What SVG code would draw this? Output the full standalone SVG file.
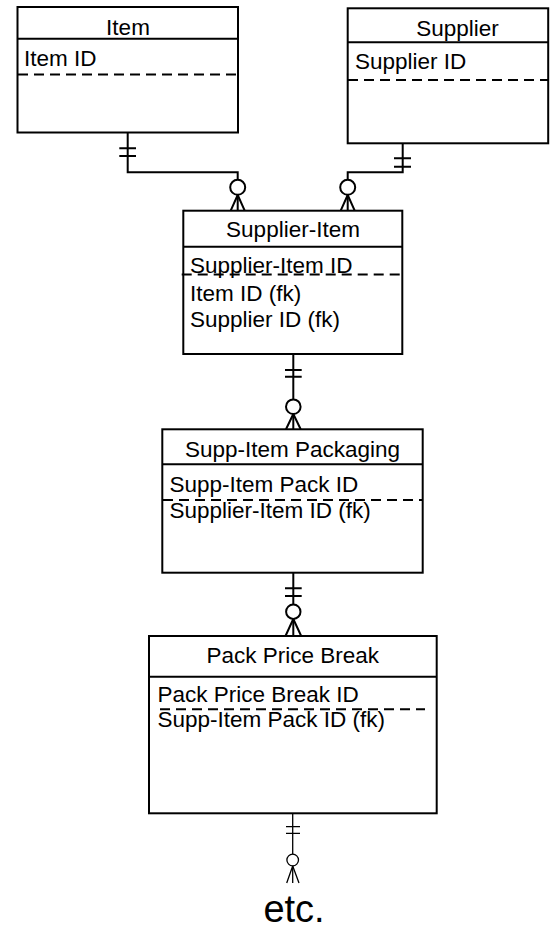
<svg xmlns="http://www.w3.org/2000/svg" width="550" height="931" viewBox="0 0 550 931">
<style>
.box{fill:#fff;stroke:#000;stroke-width:2}
.ln{fill:none;stroke:#000;stroke-width:2}
.thin{fill:none;stroke:#000;stroke-width:1.3}
.dash{fill:none;stroke:#000;stroke-width:2;stroke-dasharray:10 6}
.t{font-family:"Liberation Sans",Arial,sans-serif;font-size:22.5px;fill:#000}
.c{text-anchor:middle}
.circ{fill:#fff;stroke:#000;stroke-width:2}
.circt{fill:#fff;stroke:#000;stroke-width:1.3}
</style>
<rect width="550" height="931" fill="#fff"/>
<g id="connectors">
  <path class="ln" d="M127.7,132.5 V172.3 H237.7 V210.7"/>
  <path class="ln" d="M119.3,148.3 H136 M119.3,156 H136"/>
  <path class="ln" d="M237.7,195 L230.7,210.7 M237.7,195 L244.7,210.7"/>
  <circle class="circ" cx="237.7" cy="187.3" r="7.5"/>
  <path class="ln" d="M402.7,143.3 V172.3 H347.7 V210.7"/>
  <path class="ln" d="M394,158.3 H411 M394,166.7 H411"/>
  <path class="ln" d="M347.7,195 L340.7,210.7 M347.7,195 L354.7,210.7"/>
  <circle class="circ" cx="347.7" cy="187.3" r="7.5"/>
  <path class="ln" d="M293.3,354 V429.3"/>
  <path class="ln" d="M285,370 H301.7 M285,376.7 H301.7"/>
  <path class="ln" d="M293.3,414 L286,429.3 M293.3,414 L300.7,429.3"/>
  <circle class="circ" cx="293.3" cy="406.7" r="7.3"/>
  <path class="ln" d="M293.3,572.7 V636"/>
  <path class="ln" d="M285,588.3 H301.7 M285,596 H301.7"/>
  <path class="ln" d="M293.3,619 L285.5,636 M293.3,619 L301.2,636"/>
  <circle class="circ" cx="293.3" cy="611.7" r="7.2"/>
  <path class="thin" d="M292.7,813.3 V883"/>
  <path class="thin" d="M286,826.7 H300 M286,833.3 H300"/>
  <path class="thin" d="M292.7,866 L286.7,883 M292.7,866 L299,883"/>
  <circle class="circt" cx="292.7" cy="860" r="5.8"/>
</g>
<g id="item">
  <rect class="box" x="17.5" y="7" width="220.5" height="125.5"/>
  <line class="ln" x1="17.5" y1="38.7" x2="238" y2="38.7"/>
  <line class="dash" x1="18" y1="74.5" x2="237" y2="74.5"/>
  <text class="t c" x="128" y="35">Item</text>
  <text class="t" x="24" y="66">Item ID</text>
</g>
<g id="supplier">
  <rect class="box" x="347.7" y="8.3" width="200.5" height="135"/>
  <line class="ln" x1="347.7" y1="42.3" x2="548.2" y2="42.3"/>
  <line class="dash" x1="348" y1="80" x2="548" y2="80"/>
  <text class="t c" x="457.5" y="36">Supplier</text>
  <text class="t" x="355" y="69">Supplier ID</text>
</g>
<g id="supplier-item">
  <rect class="box" x="183.3" y="210.7" width="219" height="143.3"/>
  <line class="ln" x1="183.3" y1="246.7" x2="402.3" y2="246.7"/>
  <text class="t c" x="293" y="236.7">Supplier-Item</text>
  <text class="t" x="190" y="272.5">Supplier-Item ID</text>
  <line class="dash" x1="181.7" y1="274.5" x2="401.7" y2="274.5"/>
  <text class="t" x="190" y="300.7">Item ID (fk)</text>
  <text class="t" x="190" y="326.7">Supplier ID (fk)</text>
</g>
<g id="supp-item-packaging">
  <rect class="box" x="162.3" y="429.3" width="260.4" height="143.4"/>
  <line class="ln" x1="162.3" y1="464.3" x2="422.7" y2="464.3"/>
  <text class="t c" x="292.5" y="456.7">Supp-Item Packaging</text>
  <text class="t" x="169.5" y="491.7">Supp-Item Pack ID</text>
  <line class="dash" x1="163" y1="500" x2="422" y2="500"/>
  <text class="t" x="169.5" y="518.3">Supplier-Item ID (fk)</text>
</g>
<g id="pack-price-break">
  <rect class="box" x="149" y="636" width="287.7" height="177.3"/>
  <line class="ln" x1="149" y1="676.7" x2="436.7" y2="676.7"/>
  <text class="t c" x="292.8" y="662.7">Pack Price Break</text>
  <text class="t" x="157.5" y="702.3">Pack Price Break ID</text>
  <line class="dash" x1="160" y1="709.3" x2="425" y2="709.3"/>
  <text class="t" x="157.5" y="727">Supp-Item Pack ID (fk)</text>
</g>
<g id="etc">
  <text class="t c" x="294" y="922" style="font-size:38px">etc.</text>
</g>
</svg>
